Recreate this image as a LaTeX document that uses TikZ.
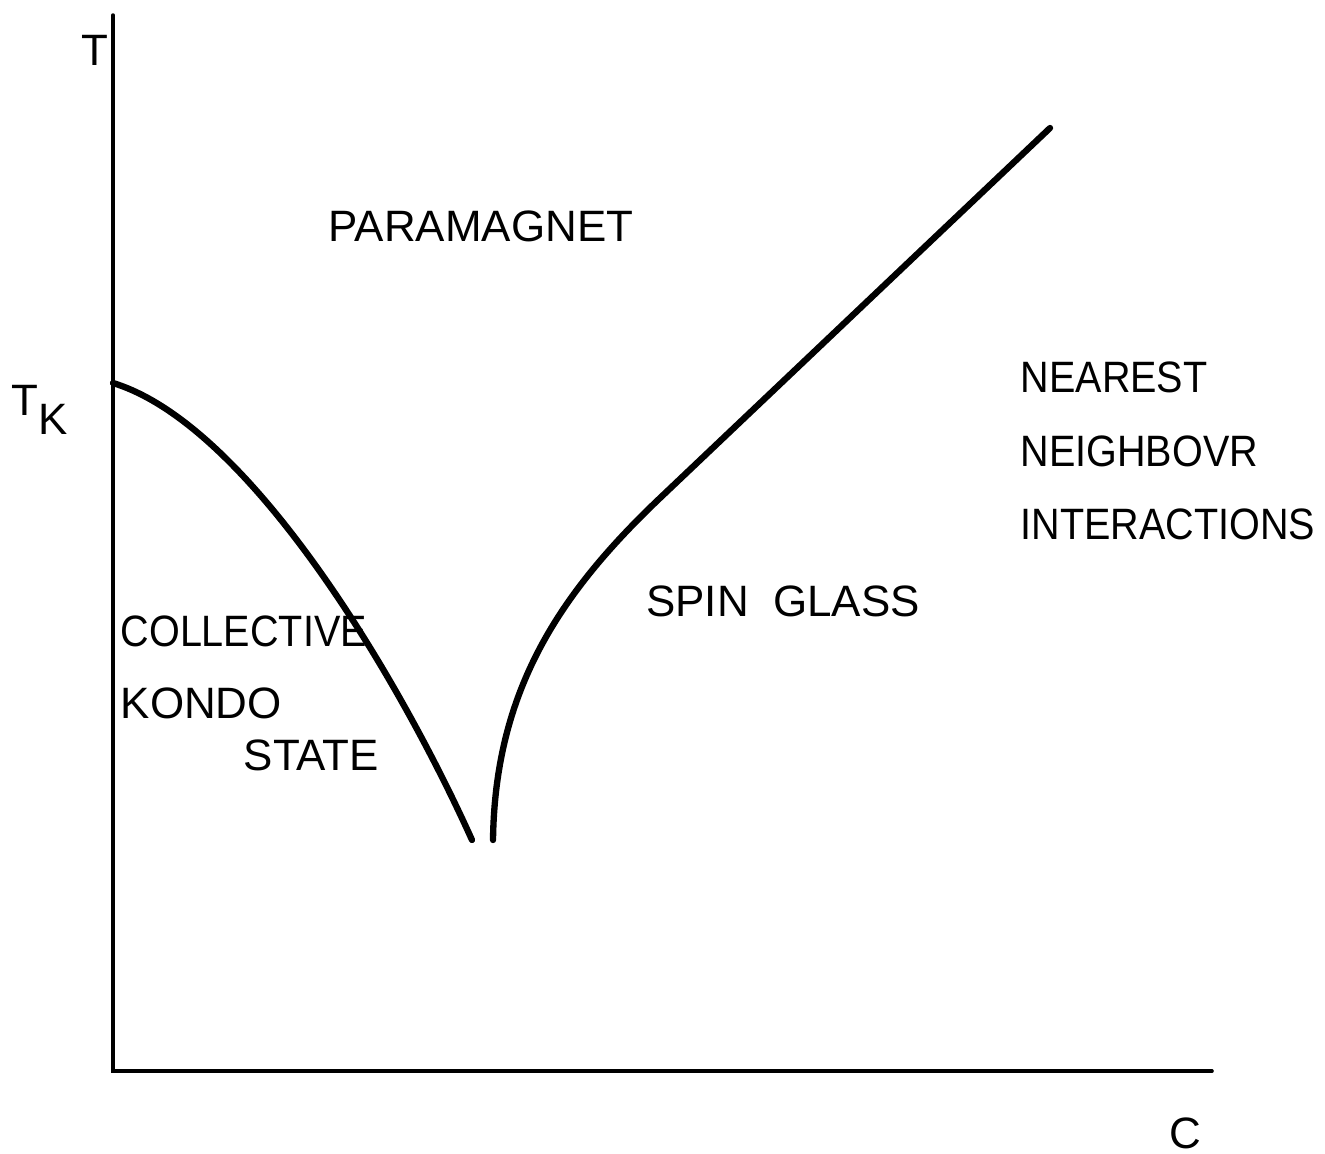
\documentclass[tikz,border=0pt]{standalone}
\usepackage{fontspec}
\setmainfont{Liberation Sans}
\newfontfamily\narrowfont{Liberation Sans}[FakeStretch=0.9]
\usepackage{tikz}
\usetikzlibrary{positioning}

\begin{document}
\begin{tikzpicture}[
  x=0.1mm, y=-0.1mm,
  lbl/.style={font=\fontsize{12.5}{21}\selectfont, inner sep=0pt, align=left},
  narrow/.style={lbl, font=\narrowfont\fontsize{12.5}{21}\selectfont},
  axis/.style={line width=1pt, line cap=round},
  phase/.style={line width=1.8pt, line cap=round}
]
  \useasboundingbox (0,0) rectangle (1325,1153);

  % axes
  \coordinate (top)    at (113,15);
  \coordinate (origin) at (113,1071);
  \coordinate (right)  at (1212,1071);
  \draw[axis] (top) -- (origin) -- (right);

  \node[lbl] (T)  at (95,50)    {T};
  \node[lbl] (TK) at (40,410)   {T\raisebox{-0.8ex}{K}};
  \node[lbl] (C)  at (1185,1133) {C};

  % phase boundaries
  \coordinate (kstart) at (113,383);
  \coordinate (kend)   at (472,840);
  \coordinate (sstart) at (493,840);
  \coordinate (sbend)  at (660,498);
  \coordinate (send)   at (1050,128);
  \draw[phase] (kstart) .. controls (250,425) and (400,680) .. (kend);
  \draw[phase] (sstart) .. controls (495,690) and (560,593) .. (sbend) -- (send);

  % regions
  \node[lbl] (para) at (481,226) {PARAMAGNET};
  \node[lbl] (spin) at (783,601) {SPIN\ \ GLASS};
  \node[narrow, anchor=west] (near) at (1020,451) {NEAREST\\NEIGHBOVR\\INTERACTIONS};
  \node[narrow, anchor=west] (coll)  at (120,631) {COLLECTIVE};
  \node[lbl, anchor=west] (kondo) at (120,703) {KONDO};
  \node[lbl, anchor=west] (state) at (243,755) {STATE};
\end{tikzpicture}
\end{document}
